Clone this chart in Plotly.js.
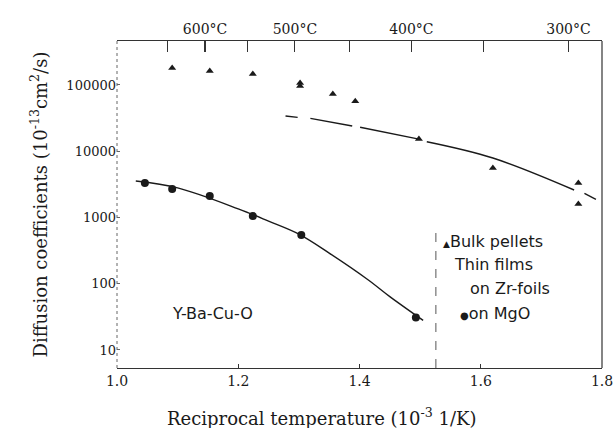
<!DOCTYPE html>
<html>
<head>
<meta charset="utf-8">
<script src="https://cdn.plot.ly/plotly-3.0.1.min.js"></script>
<style>
  html, body { margin: 0; padding: 0; background: #fff; }
  #chart { width: 614px; height: 428px; }
</style>
</head>
<body>
<div id="chart"></div>
<script>
// ---- data ----
const bulkX = [1.091, 1.153, 1.224, 1.302, 1.302, 1.356, 1.393, 1.498, 1.620, 1.761, 1.761];
const bulkY = [181000, 163000, 147000, 107000, 96600, 73000, 57000, 15300, 5580, 3310, 1600];

const mgoX = [1.046, 1.091, 1.153, 1.224, 1.304, 1.493];
const mgoY = [3310, 2690, 2110, 1050, 545, 31];

const mgoFitX = [1.031, 1.10, 1.20, 1.25, 1.30, 1.35, 1.414, 1.45, 1.505];
const mgoFitY = [3550, 2800, 1350, 880, 560, 290, 115, 64, 28];

const zrFitX = [1.278, 1.298, null, 1.319, 1.388, null, 1.401, 1.500, null, 1.511, 1.620, 1.754, null, 1.771, 1.790];
const zrFitY = [34000, 32400, null, 31400, 24000, null, 23000, 15100, null, 13900, 7900, 2600, null, 2320, 1880];

const xTickVals = [1.0, 1.2, 1.4, 1.6, 1.8];
const xTickText = ['1.0', '1.2', '1.4', '1.6', '1.8'];
const yTickVals = [10, 100, 1000, 10000, 100000];
const yTickText = ['10', '100', '1000', '10000', '100000'];
const tempAll = [650, 600, 550, 500, 450, 400, 350, 300];     // °C, tick marks on top axis
const tempLabelled = [600, 500, 400, 300];                    // °C, labelled ticks
const tempText = ['600°C', '500°C', '400°C', '300°C'];
const toRecip = t => 1000 / (t + 273.15);                     // 10^-3 1/K

const legendBoxX = 1.526;

const serif = 'DejaVu Serif, Liberation Serif, serif';
const sans = 'DejaVu Sans, Liberation Sans, sans-serif';
const ink = '#1a1a1a';

const traces = [
  { x: mgoFitX, y: mgoFitY, mode: 'lines', line: { color: ink, width: 1.4, shape: 'spline' },
    hoverinfo: 'skip', showlegend: false, name: 'fit on MgO' },
  { x: zrFitX, y: zrFitY, mode: 'lines', line: { color: ink, width: 1.4, shape: 'spline' },
    connectgaps: false, hoverinfo: 'skip', showlegend: false, name: 'Thin films on Zr-foils' },
  { x: bulkX, y: bulkY, mode: 'markers', name: 'Bulk pellets',
    marker: { symbol: 'triangle-up', size: 7, color: ink }, showlegend: false },
  { x: mgoX, y: mgoY, mode: 'markers', name: 'on MgO',
    marker: { symbol: 'circle', size: 8, color: ink }, showlegend: false },
  // carrier for the top (temperature) axis
  { x: bulkX, y: bulkY, xaxis: 'x2', mode: 'markers', marker: { opacity: 0 },
    hoverinfo: 'skip', showlegend: false }
];

const layout = {
  width: 614, height: 428,
  margin: { l: 117, r: 12, t: 41, b: 60 },
  paper_bgcolor: '#fff', plot_bgcolor: '#fff',
  showlegend: false,
  xaxis: {
    range: [1.0, 1.8], tickvals: xTickVals, ticktext: xTickText,
    ticks: 'inside', ticklen: 4, tickcolor: '#333',
    showline: true, linecolor: '#333', linewidth: 1.2,
    showgrid: false, zeroline: false,
    tickfont: { family: serif, size: 14, color: ink }
  },
  xaxis2: {
    overlaying: 'x', side: 'top', range: [1.0, 1.8],
    tickvals: tempLabelled.map(toRecip), ticktext: tempText,
    ticks: 'inside', ticklen: 11, tickcolor: '#333', tickwidth: 1.2,
    minor: { tickvals: tempAll.map(toRecip), ticks: 'inside', ticklen: 11,
             tickcolor: '#333', tickwidth: 1.2, showgrid: false },
    showline: true, linecolor: '#333', linewidth: 1.2,
    showgrid: false, zeroline: false,
    tickfont: { family: serif, size: 14, color: ink }
  },
  yaxis: {
    type: 'log', range: [0.728, 5.664],
    tickvals: yTickVals, ticktext: yTickText,
    ticks: 'inside', ticklen: 3, tickcolor: '#666',
    showline: false, showgrid: false, zeroline: false,
    tickfont: { family: serif, size: 13, color: ink },
    title: { text: 'Diffusion coefficients (10<sup>-13</sup>cm<sup>2</sup>/s)',
             font: { family: serif, size: 18, color: ink }, standoff: 14 }
  },
  shapes: [
    { type: 'line', xref: 'paper', yref: 'paper', x0: 0, x1: 0, y0: 0, y1: 1,
      line: { color: '#666', width: 1, dash: 'dot' } },
    { type: 'line', xref: 'paper', yref: 'paper', x0: 1, x1: 1, y0: 0, y1: 1,
      line: { color: '#333', width: 1.2 } },
    { type: 'line', xref: 'x', yref: 'paper', x0: legendBoxX, x1: legendBoxX, y0: 0, y1: 0.43,
      line: { color: '#555', width: 1, dash: 'dash' } }
  ],
  annotations: [
    { xref: 'paper', yref: 'paper', x: 0.668, y: 0.388, xanchor: 'left', yanchor: 'middle',
      showarrow: false, text: "<span style='font-size:9px'>▲</span>Bulk pellets",
      font: { family: sans, size: 16, color: ink } },
    { xref: 'paper', yref: 'paper', x: 0.691, y: 0.315, xanchor: 'left', yanchor: 'middle',
      showarrow: false, text: 'Thin films', font: { family: sans, size: 16, color: ink } },
    { xref: 'paper', yref: 'paper', x: 0.724, y: 0.242, xanchor: 'left', yanchor: 'middle',
      showarrow: false, text: 'on Zr-foils', font: { family: sans, size: 16, color: ink } },
    { xref: 'paper', yref: 'paper', x: 0.704, y: 0.168, xanchor: 'left', yanchor: 'middle',
      showarrow: false, text: "<span style='font-size:10px'>●</span>on MgO",
      font: { family: sans, size: 16, color: ink } },
    { xref: 'x', yref: 'y', x: 1.157, y: 1.556, xanchor: 'center', yanchor: 'middle',
      showarrow: false, text: 'Y-Ba-Cu-O', font: { family: sans, size: 16, color: ink } },
    { xref: 'paper', yref: 'paper', x: 0.423, y: -0.15, xanchor: 'center', yanchor: 'middle',
      showarrow: false, text: 'Reciprocal temperature (10<sup>-3</sup> 1/K)',
      font: { family: serif, size: 18, color: ink } }
  ]
};

Plotly.newPlot('chart', traces, layout, { displayModeBar: false, staticPlot: true });
</script>
</body>
</html>
